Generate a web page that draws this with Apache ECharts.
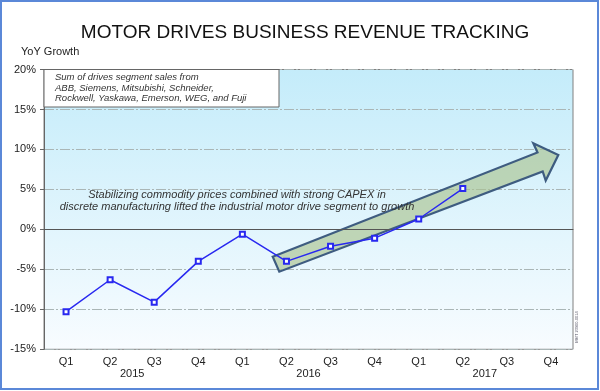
<!DOCTYPE html>
<html>
<head>
<meta charset="utf-8">
<script src="https://cdn.jsdelivr.net/npm/echarts@6/dist/echarts.min.js"></script>
<style>
html,body{margin:0;padding:0;background:#fff;}
#chart{width:600px;height:391px;}
</style>
</head>
<body>
<div id="chart"></div>
<script>
var quarters = ['Q1','Q2','Q3','Q4','Q1','Q2','Q3','Q4','Q1','Q2','Q3','Q4'];
var years = ['2015','2016','2017'];
var growth = [-10.3, -6.3, -9.1, -4.0, -0.6, -4.0, -2.1, -1.1, 1.3, 5.1, null, null];
var yTicks = {min: -15, max: 20, interval: 5};

var FONT = '"Liberation Sans", Arial, sans-serif';
var chart = echarts.init(document.getElementById('chart'));

var option = {
  animation: false,
  grid: {
    left: 44, right: 27, top: 69.5, bottom: 41.7,
    show: true,
    borderColor: '#808080', borderWidth: 1,
    backgroundColor: new echarts.graphic.LinearGradient(0, 0, 0, 1, [
      {offset: 0, color: '#c4ecfa'},
      {offset: 1, color: '#f8fcff'}
    ])
  },
  xAxis: [
    {
      type: 'category', data: quarters, position: 'bottom',
      axisLine: {lineStyle: {color: '#555', width: 1}},
      axisTick: {interval: 0, length: 7, lineStyle: {color: '#555'}},
      axisLabel: {interval: 0, margin: 7, color: '#222', fontSize: 11, fontFamily: FONT}
    },
    {
      type: 'category', data: years, position: 'bottom',
      axisLine: {show: false},
      axisTick: {interval: 0, length: 16, lineStyle: {color: '#555'}},
      axisLabel: {interval: 0, margin: 19, color: '#222', fontSize: 11, fontFamily: FONT}
    }
  ],
  yAxis: {
    type: 'value', min: yTicks.min, max: yTicks.max, interval: yTicks.interval,
    axisLine: {show: true, lineStyle: {color: '#666'}},
    axisTick: {show: true, length: 4, lineStyle: {color: '#666'}},
    axisLabel: {formatter: '{value}%', margin: 8, color: '#222', fontSize: 11, fontFamily: FONT},
    splitLine: {lineStyle: {color: '#aab6b6', width: 1, type: [10, 2, 2, 2]}}
  },
  series: [
    {
      type: 'line', data: growth, xAxisIndex: 0,
      symbol: 'emptyRect', symbolSize: 5,
      lineStyle: {color: '#2828f0', width: 1.5},
      itemStyle: {color: '#2828f0', borderColor: '#2828f0', borderWidth: 1.2},
      z: 5,
      markLine: {
        silent: true, symbol: 'none', label: {show: false},
        lineStyle: {color: '#555', type: 'solid', width: 1},
        data: [{yAxis: 0}]
      }
    }
  ],
  graphic: [
    {type: 'rect', shape: {x: 1, y: 1, width: 597, height: 388}, style: {fill: 'none', stroke: '#5b88d8', lineWidth: 2}, z: 100},
    {type: 'text', x: 305, y: 32.5, style: {text: 'MOTOR DRIVES BUSINESS REVENUE TRACKING', font: '19px ' + FONT, fill: '#111', textAlign: 'center', textVerticalAlign: 'middle'}},
    {type: 'text', x: 21, y: 52, style: {text: 'YoY Growth', font: '11px ' + FONT, fill: '#222', textAlign: 'left', textVerticalAlign: 'middle'}},
    {type: 'rect', shape: {x: 44, y: 69.5, width: 235, height: 37.5}, style: {fill: '#fff', stroke: '#666', lineWidth: 1}, z: 10},
    {type: 'text', x: 55, y: 72.5, z: 11, style: {text: 'Sum of drives segment sales from\nABB, Siemens, Mitsubishi, Schneider,\nRockwell, Yaskawa, Emerson, WEG, and Fuji', font: 'italic 9.5px ' + FONT, lineHeight: 10.4, fill: '#333', textAlign: 'left', textVerticalAlign: 'top'}},
    {type: 'text', x: 237, y: 189, z: 11, style: {text: 'Stabilizing commodity prices combined with strong CAPEX in\ndiscrete manufacturing lifted the industrial motor drive segment to growth', font: 'italic 11px ' + FONT, lineHeight: 12, fill: '#333', textAlign: 'center', textVerticalAlign: 'top'}},
    {type: 'polygon', z: 4, shape: {points: [[272.7,256.7],[537.5,152.5],[533.3,143.3],[558.3,155],[545.7,180.5],[542.7,171.5],[279.3,271.7]]}, style: {fill: 'rgba(170,195,145,0.65)', stroke: '#3e5c80', lineWidth: 2.2, lineJoin: 'miter'}},
    {type: 'text', x: 577, y: 327, rotation: Math.PI / 2, z: 11, style: {text: 'MMT 23900-0014', font: '4px ' + FONT, fill: '#556', textAlign: 'center', textVerticalAlign: 'middle'}}
  ]
};
chart.setOption(option);
</script>
</body>
</html>
